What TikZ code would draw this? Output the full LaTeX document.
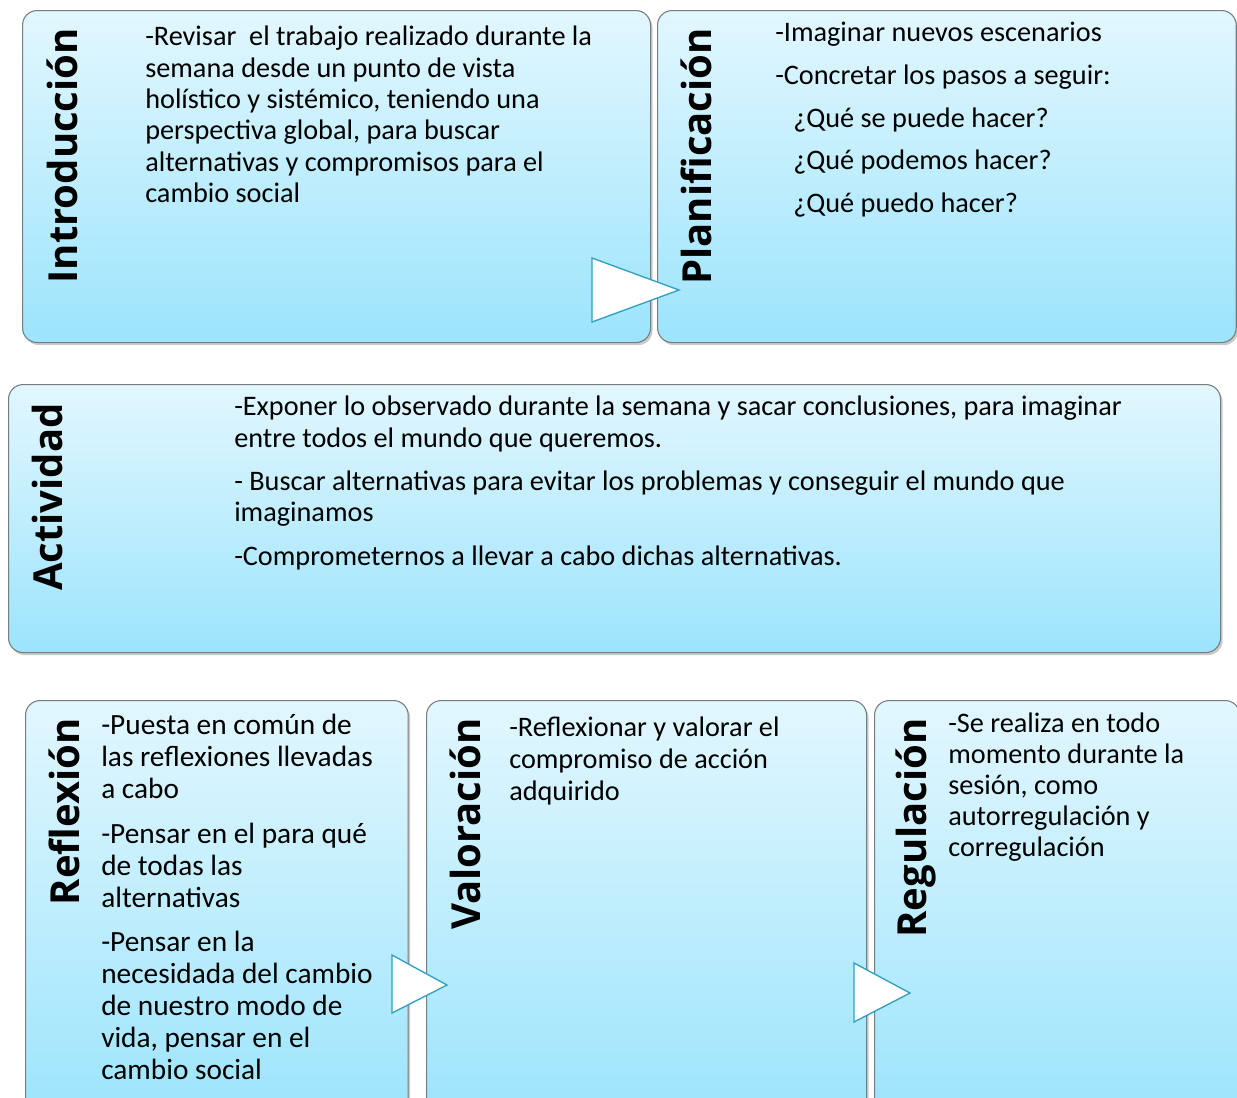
\documentclass[tikz,border=0pt]{standalone}
\usepackage{fontspec}
\setmainfont{Carlito}
\newfontfamily\titlefont{Open Sans}
\usetikzlibrary{shadows}

\definecolor{boxtop}{RGB}{226,247,254}
\definecolor{boxbot}{RGB}{156,228,252}
\definecolor{boxline}{RGB}{118,124,128}
\definecolor{triline}{RGB}{48,160,192}

\begin{document}
\begin{tikzpicture}[x=0.75pt,y=-0.75pt,
    box/.style={rectangle, rounded corners=11pt, draw=boxline, line width=0.8pt,
      top color=boxtop, bottom color=boxbot, anchor=north west, inner sep=0pt,
      drop shadow={shadow xshift=1.5pt, shadow yshift=-2pt, opacity=0.35, fill=black!60}},
    title/.style={rotate=90, anchor=base east, inner sep=0pt,
      font=\titlefont\bfseries\fontsize{30}{32}\selectfont},
    body/.style={anchor=north west, inner sep=0pt, align=left,
      font=\fontsize{21.2}{23.5}\selectfont,
      execute at begin node={\rule{0pt}{18pt}}},
    tri/.style={draw=triline, fill=white, line width=1pt, line join=miter}]
    \useasboundingbox (0,0) rectangle (1237,1097);
    \clip (0,0) rectangle (1237,1097);
    % cajas
    \node[box, minimum width=471pt, minimum height=249pt] (intro) at (22,10) {};
    \node[box, minimum width=434pt, minimum height=249pt] (planif) at (657,10) {};
    \node[box, minimum width=909pt, minimum height=201pt] (activ) at (8,384) {};
    \node[box, minimum width=287pt, minimum height=315pt] (reflex) at (25,700) {};
    \node[box, minimum width=330pt, minimum height=315pt] (valor) at (426,700) {};
    \node[box, minimum width=274pt, minimum height=315pt] (regul) at (874,700) {};
    % titulos
    \node[title] (t-intro) at (77,28) {Introducción};
    \node[title] (t-planif) at (711,28) {Planificación};
    \node[title] (t-activ) at (62,403) {Actividad};
    \node[title] (t-reflex) at (79,718) {Reflexión};
    \node[title] (t-valor) at (480,718) {Valoración};
    \node[title] (t-regul) at (926,718) {Regulación};
    % textos
    \node[body] (x-intro) at (145,26) {-Revisar\ \ el trabajo realizado durante la\\
      semana desde un punto de vista\\
      holístico y sistémico, teniendo una\\
      perspectiva global, para buscar\\
      alternativas y compromisos para el\\
      cambio social};
    \node[body] (x-planif) at (775,22) {-Imaginar nuevos escenarios\\[8.5pt]
      -Concretar los pasos a seguir:\\[8.5pt]
      \hspace{13.5pt}¿Qué se puede hacer?\\[8.5pt]
      \hspace{13.5pt}¿Qué podemos hacer?\\[8.5pt]
      \hspace{13.5pt}¿Qué puedo hacer?};
    \node[body] (x-activ) at (234,396) {-Exponer lo observado durante la semana y sacar conclusiones, para imaginar\\
      entre todos el mundo que queremos.\\[9pt]
      - Buscar alternativas para evitar los problemas y conseguir el mundo que\\
      imaginamos\\[9pt]
      -Comprometernos a llevar a cabo dichas alternativas.};
    \node[body, font=\fontsize{22}{24}\selectfont] (x-reflex) at (101,714) {-Puesta en común de\\
      las reflexiones llevadas\\
      a cabo\\[9.5pt]
      -Pensar en el para qué\\
      de todas las\\
      alternativas\\[9.5pt]
      -Pensar en la\\
      necesidada del cambio\\
      de nuestro modo de\\
      vida, pensar en el\\
      cambio social};
    \node[body, font=\fontsize{21.2}{23.8}\selectfont] (x-valor) at (509,717) {-Reflexionar y valorar el\\
      compromiso de acción\\
      adquirido};
    \node[body, font=\fontsize{21.2}{23.1}\selectfont] (x-regul) at (948,713) {-Se realiza en todo\\
      momento durante la\\
      sesión, como\\
      autorregulación y\\
      corregulación};
    % flechas
    \draw[tri] (592,258) -- (679,290) -- (592,322) -- cycle;
    \draw[tri] (392,955) -- (447,985) -- (392,1013) -- cycle;
    \draw[tri] (854,963) -- (910,993) -- (854,1022) -- cycle;
\end{tikzpicture}
\end{document}
